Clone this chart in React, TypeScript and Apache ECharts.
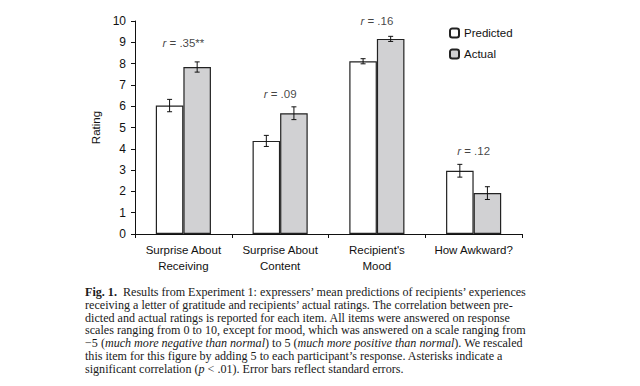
import React, { useEffect, useRef } from "react";
import * as echarts from "echarts";

const categories = ["Surprise About\nReceiving", "Surprise About\nContent", "Recipient's\nMood", "How Awkward?"];
const predicted = [6.03, 4.37, 8.11, 2.97];
const predictedErr = [0.29, 0.26, 0.12, 0.3];
const actual = [7.84, 5.67, 9.16, 1.92];
const actualErr = [0.24, 0.3, 0.12, 0.3];
const correlations = [".35**", ".09", ".16", ".12"];
const corrLabelAt = [8.98, 6.58, 10.0, 3.9];
const yTicks = [0, 1, 2, 3, 4, 5, 6, 7, 8, 9, 10];

const SANS = "'Liberation Sans Narrow', 'Arial Narrow', 'Liberation Sans', Arial, sans-serif";
const SERIF = "'Liberation Serif', 'Times New Roman', serif";
const GAP = 0.43;
const FS = 11.5;
const CFS = 12.1;

const captionLines: string[] = [
  "{b|Fig. 1.}  Results from Experiment 1: expressers’ mean predictions of recipients’ experiences",
  "receiving a letter of gratitude and recipients’ actual ratings. The correlation between pre-",
  "dicted and actual ratings is reported for each item. All items were answered on response",
  "scales ranging from 0 to 10, except for mood, which was answered on a scale ranging from",
  "−5 ({i|much more negative than normal}) to 5 ({i|much more positive than normal}). We rescaled",
  "this item for this figure by adding 5 to each participant’s response. Asterisks indicate a",
  "significant correlation ({i|p} < .01). Error bars reflect standard errors.",
];

function errorSeries(values: number[], errs: number[], side: number) {
  return {
    type: "custom",
    silent: true,
    z: 5,
    clip: false,
    encode: { x: 0, y: 1 },
    data: values.map((v, i) => [i, v, errs[i]]),
    renderItem: (params: any, api: any) => {
      const x = api.value(0);
      const y = api.value(1);
      const e = api.value(2);
      const hi = api.coord([x, y + e]);
      const lo = api.coord([x, y - e]);
      const band = api.size([1, 0])[0];
      const bw = (band * (1 - GAP)) / 2;
      const cx = hi[0] + (side * bw) / 2;
      const cap = 2.5;
      const style = { stroke: "#111", lineWidth: 1 };
      return {
        type: "group",
        children: [
          { type: "line", shape: { x1: cx, y1: hi[1], x2: cx, y2: lo[1] }, style },
          { type: "line", shape: { x1: cx - cap, y1: hi[1], x2: cx + cap, y2: hi[1] }, style },
          { type: "line", shape: { x1: cx - cap, y1: lo[1], x2: cx + cap, y2: lo[1] }, style },
        ],
      };
    },
  };
}

export default function App() {
  const ref = useRef<HTMLDivElement>(null);
  useEffect(() => {
    if (!ref.current) return;
    const chart = echarts.init(ref.current, null, { renderer: "svg" });
    const captionGraphics = captionLines.map((l, i) => ({
      type: "text",
      left: 85,
      top: 286 + i * 12.75,
      style: {
        text: l,
        font: `${CFS}px ${SERIF}`,
        fill: "#1a1a1a",
        rich: {
          b: { fontWeight: "bold", fontFamily: SERIF, fontSize: CFS, fill: "#1a1a1a" },
          i: { fontStyle: "italic", fontFamily: SERIF, fontSize: CFS, fill: "#1a1a1a" },
        },
      },
    }));
    chart.setOption({
      animation: false,
      backgroundColor: "#fff",
      grid: { left: 135, right: 118, top: 21, bottom: 152, containLabel: false },
      legend: {
        data: ["Predicted", "Actual"],
        orient: "vertical",
        left: 449,
        top: 27,
        padding: 0,
        itemWidth: 9,
        itemHeight: 9,
        itemGap: 9,
        icon: "roundRect",
        textStyle: { fontFamily: SANS, fontSize: FS, color: "#111" },
      },
      xAxis: {
        type: "category",
        data: categories,
        axisLine: { lineStyle: { color: "#111", width: 1 } },
        axisTick: { show: true, length: 4, lineStyle: { color: "#111" } },
        axisLabel: { fontFamily: SANS, fontSize: FS, color: "#111", lineHeight: 16, margin: 8, interval: 0 },
      },
      yAxis: {
        type: "value",
        min: 0,
        max: 10,
        interval: 1,
        name: "Rating",
        nameLocation: "middle",
        nameGap: 29,
        nameTextStyle: { fontFamily: SANS, fontSize: FS, color: "#111" },
        splitLine: { show: false },
        axisLine: { show: true, lineStyle: { color: "#111", width: 1 } },
        axisTick: { show: true, length: 4, lineStyle: { color: "#111" } },
        axisLabel: {
          fontFamily: SANS,
          fontSize: 12,
          color: "#111",
          margin: 9,
          formatter: (v: number) => (yTicks.includes(v) ? String(v) : ""),
        },
      },
      series: [
        {
          name: "Predicted",
          type: "bar",
          data: predicted,
          barGap: "0%",
          barCategoryGap: `${GAP * 100}%`,
          itemStyle: { color: "#ffffff", borderColor: "#222", borderWidth: 1.2 },
        },
        {
          name: "Actual",
          type: "bar",
          data: actual,
          barGap: "0%",
          barCategoryGap: `${GAP * 100}%`,
          itemStyle: { color: "#d1d1d3", borderColor: "#222", borderWidth: 1.2 },
        },
        errorSeries(predicted, predictedErr, -1),
        errorSeries(actual, actualErr, 1),
        {
          type: "scatter",
          silent: true,
          symbolSize: 0,
          z: 6,
          data: corrLabelAt.map((v, i) => [i, v]),
          label: {
            show: true,
            position: "inside",
            formatter: (p: any) => `{i|r} = ${correlations[p.dataIndex]}`,
            fontFamily: SANS,
            fontSize: FS,
            color: "#111",
            rich: { i: { fontStyle: "italic", fontFamily: SANS, fontSize: FS, color: "#111" } },
          },
        },
      ],
      graphic: captionGraphics,
    });
    return () => chart.dispose();
  }, []);
  return <div ref={ref} style={{ position: "fixed", left: 0, top: 0, width: 640, height: 386 }} />;
}
